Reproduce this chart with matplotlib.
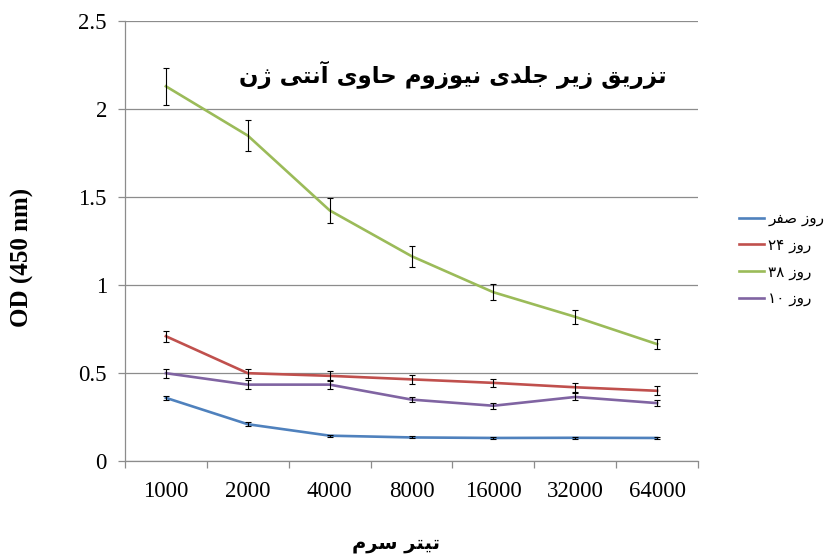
import numpy as np
import matplotlib
matplotlib.use("Agg")
import matplotlib.pyplot as plt

# serum titer dilutions and OD readings per sampling day
titers = ["1000", "2000", "4000", "8000", "16000", "32000", "64000"]

day0 = [0.36, 0.21, 0.145, 0.135, 0.132, 0.133, 0.132]
day0_err = [0.012, 0.01, 0.006, 0.006, 0.005, 0.005, 0.006]

day24 = [0.71, 0.50, 0.485, 0.465, 0.445, 0.42, 0.40]
day24_err = [0.03, 0.025, 0.03, 0.025, 0.022, 0.025, 0.025]

day38 = [2.13, 1.85, 1.425, 1.165, 0.96, 0.82, 0.665]
day38_err = [0.105, 0.09, 0.07, 0.06, 0.045, 0.04, 0.03]

day10 = [0.50, 0.435, 0.435, 0.35, 0.315, 0.365, 0.33]
day10_err = [0.025, 0.025, 0.025, 0.015, 0.018, 0.02, 0.015]

labels = ["روز صفر", "روز ۲۴", "روز ۳۸", "روز ۱۰"]
title_txt = "تزریق زیر جلدی نیوزوم حاوی آنتی ژن"
xlabel_txt = "تیتر سرم"

# --- tiny Persian shaper (matplotlib does no contextual shaping) ---
# letter: (isolated, final, initial, medial); None for right-joining letters
FORMS = {
    "ا": (0xFE8D, 0xFE8E, None, None),
    "آ": (0xFE81, 0xFE82, None, None),
    "د": (0xFEA9, 0xFEAA, None, None),
    "ر": (0xFEAD, 0xFEAE, None, None),
    "ز": (0xFEAF, 0xFEB0, None, None),
    "ژ": (0xFB8A, 0xFB8B, None, None),
    "و": (0xFEED, 0xFEEE, None, None),
    "ت": (0xFE95, 0xFE96, 0xFE97, 0xFE98),
    "ج": (0xFE9D, 0xFE9E, 0xFE9F, 0xFEA0),
    "ح": (0xFEA1, 0xFEA2, 0xFEA3, 0xFEA4),
    "س": (0xFEB1, 0xFEB2, 0xFEB3, 0xFEB4),
    "ص": (0xFEB9, 0xFEBA, 0xFEBB, 0xFEBC),
    "ف": (0xFED1, 0xFED2, 0xFED3, 0xFED4),
    "ق": (0xFED5, 0xFED6, 0xFED7, 0xFED8),
    "ل": (0xFEDD, 0xFEDE, 0xFEDF, 0xFEE0),
    "م": (0xFEE1, 0xFEE2, 0xFEE3, 0xFEE4),
    "ن": (0xFEE5, 0xFEE6, 0xFEE7, 0xFEE8),
    "ی": (0xFBFC, 0xFBFD, 0xFBFE, 0xFBFF),
}


def shape(s):
    out = []
    for i, ch in enumerate(s):
        if ch not in FORMS:
            out.append(ch)
            continue
        iso, fin, ini, med = FORMS[ch]
        prev = s[i - 1] if i > 0 else ""
        nxt = s[i + 1] if i + 1 < len(s) else ""
        join_prev = prev in FORMS and FORMS[prev][2] is not None
        join_next = ini is not None and nxt in FORMS
        if join_prev and join_next:
            out.append(chr(med))
        elif join_prev:
            out.append(chr(fin))
        elif join_next:
            out.append(chr(ini))
        else:
            out.append(chr(iso))
    # visual order: reverse, but keep digit runs left-to-right
    runs, cur = [], ""
    for ch in out:
        if cur and (ch.isdigit() != cur[-1].isdigit()):
            runs.append(cur)
            cur = ""
        cur += ch
    runs.append(cur)
    return "".join(r if r[0].isdigit() else r[::-1] for r in runs[::-1])


plt.rcParams["font.family"] = ["DejaVu Sans"]

fig = plt.figure(figsize=(8.33, 5.57), dpi=100)
ax = fig.add_axes([0.150, 0.172, 0.688, 0.790])

x = np.arange(len(titers))
series = [
    (day0, day0_err, "#4F81BD"),
    (day24, day24_err, "#C0504D"),
    (day38, day38_err, "#9BBB59"),
    (day10, day10_err, "#8064A2"),
]
for (vals, err, col), lab in zip(series, labels):
    ax.plot(x, vals, color=col, lw=1.9, label=shape(lab), zorder=3,
            solid_joinstyle="round")
    ax.errorbar(x, vals, yerr=err, fmt="none", ecolor="black", elinewidth=0.8,
                capsize=2.5, capthick=0.8, zorder=4)

ax.set_xlim(-0.5, len(titers) - 0.5)
ax.set_ylim(0, 2.5)
ax.set_yticks(np.arange(0, 2.51, 0.5))
ax.set_yticklabels(["0", "0.5", "1", "1.5", "2", "2.5"])
ax.set_xticks(x)
ax.set_xticklabels(titers)
ax.set_xticks(np.arange(-0.5, len(titers), 1), minor=True)

ax.grid(axis="y", color="#8c8c8c", lw=0.9, zorder=0)
for side in ["top", "right"]:
    ax.spines[side].set_visible(False)
for side in ["left", "bottom"]:
    ax.spines[side].set_color("#8c8c8c")
    ax.spines[side].set_linewidth(0.9)

ax.tick_params(axis="x", which="major", length=0, pad=14)
ax.tick_params(axis="x", which="minor", length=5, color="#8c8c8c", width=0.9)
ax.tick_params(axis="y", length=5, color="#8c8c8c", width=0.9, pad=8)
for t in ax.get_xticklabels() + ax.get_yticklabels():
    t.set_fontfamily("Liberation Serif")
    t.set_fontsize(16.5)

ax.set_ylabel("OD (450 nm)", family="Liberation Serif", fontweight="bold",
              fontsize=18)
ax.yaxis.set_label_coords(-0.158, 0.462)

ax.text(0.945, 0.878, shape(title_txt), transform=ax.transAxes, ha="right",
        va="center", fontsize=16.5, fontweight="bold")
fig.text(0.475, 0.025, shape(xlabel_txt), ha="center", va="center",
         fontsize=14, fontweight="bold")

leg = ax.legend(loc="upper left", bbox_to_anchor=(0.880, 0.632),
                bbox_transform=fig.transFigure, frameon=False, fontsize=11,
                handlelength=1.6, handletextpad=0.3, labelspacing=0.75,
                borderaxespad=0)

fig.savefig("out.png", dpi=100, facecolor="white")
